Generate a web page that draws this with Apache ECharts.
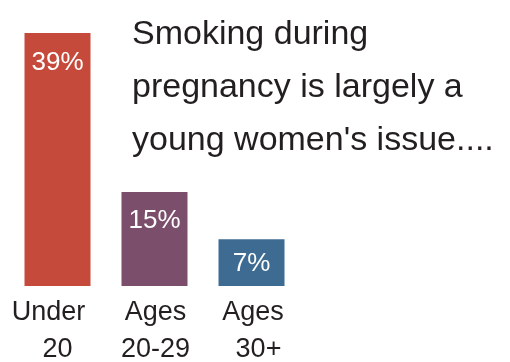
<!DOCTYPE html>
<html>
<head>
<meta charset="utf-8">
<script src="https://cdn.jsdelivr.net/npm/echarts@6/dist/echarts.min.js"></script>
<style>
html,body{margin:0;padding:0;background:#fff;}
#chart{width:510px;height:362px;}
</style>
</head>
<body>
<div id="chart"></div>
<script>
const categories = ['Under\n20', 'Ages\n20-29', 'Ages\n30+'];
const values = [39, 14.5, 7.2];
const valueLabels = ['39%', '15%', '7%'];
const titleText = "Smoking during\npregnancy is largely a\nyoung women's issue....";

const barColors = ['#c64a3b', '#7b4f6b', '#3e6b91'];
const labelDistances = [17, 16, 12];
const FONT = '"Liberation Sans", Arial, Helvetica, sans-serif';

function richStyle(pad) {
  return {fontFamily: FONT, fontSize: 27, lineHeight: 37, color: '#231f20', padding: pad};
}

const chart = echarts.init(document.getElementById('chart'), null, {renderer: 'canvas'});
chart.setOption({
  backgroundColor: '#ffffff',
  animation: false,
  title: {
    text: titleText,
    left: 127,
    top: 3,
    textStyle: {fontFamily: FONT, fontSize: 34, fontWeight: 'normal', color: '#231f20', lineHeight: 53}
  },
  grid: {left: 9, width: 291, top: 33, bottom: 76, containLabel: false, outerBoundsMode: 'none'},
  xAxis: {
    type: 'category',
    data: categories,
    axisLine: {show: false},
    axisTick: {show: false},
    axisLabel: {
      interval: 0,
      margin: 8,
      fontFamily: FONT,
      fontSize: 27,
      lineHeight: 37,
      color: '#231f20',
      formatter: function (v, i) {
        const parts = v.split('\n');
        return '{a' + i + '|' + parts[0] + '}\n{b' + i + '|' + parts[1] + '}';
      },
      rich: {
        a0: richStyle([0, 18, 0, 0]),
        b0: richStyle([0, 0, 0, 0]),
        a1: richStyle([0, 0, 0, 2]),
        b1: richStyle([0, 0, 0, 2]),
        a2: richStyle([0, 0, 0, 3]),
        b2: richStyle([0, 0, 0, 14])
      }
    }
  },
  yAxis: {
    type: 'value',
    min: 0,
    max: 39,
    show: false,
    splitLine: {show: false}
  },
  series: [{
    type: 'bar',
    barWidth: 66,
    data: values.map(function (v, i) {
      return {
        value: v,
        itemStyle: {color: barColors[i]},
        label: {distance: labelDistances[i]}
      };
    }),
    label: {
      show: true,
      position: 'insideTop',
      fontFamily: FONT,
      fontSize: 26,
      lineHeight: 26,
      color: '#ffffff',
      formatter: function (p) { return valueLabels[p.dataIndex]; }
    }
  }]
});
</script>
</body>
</html>
